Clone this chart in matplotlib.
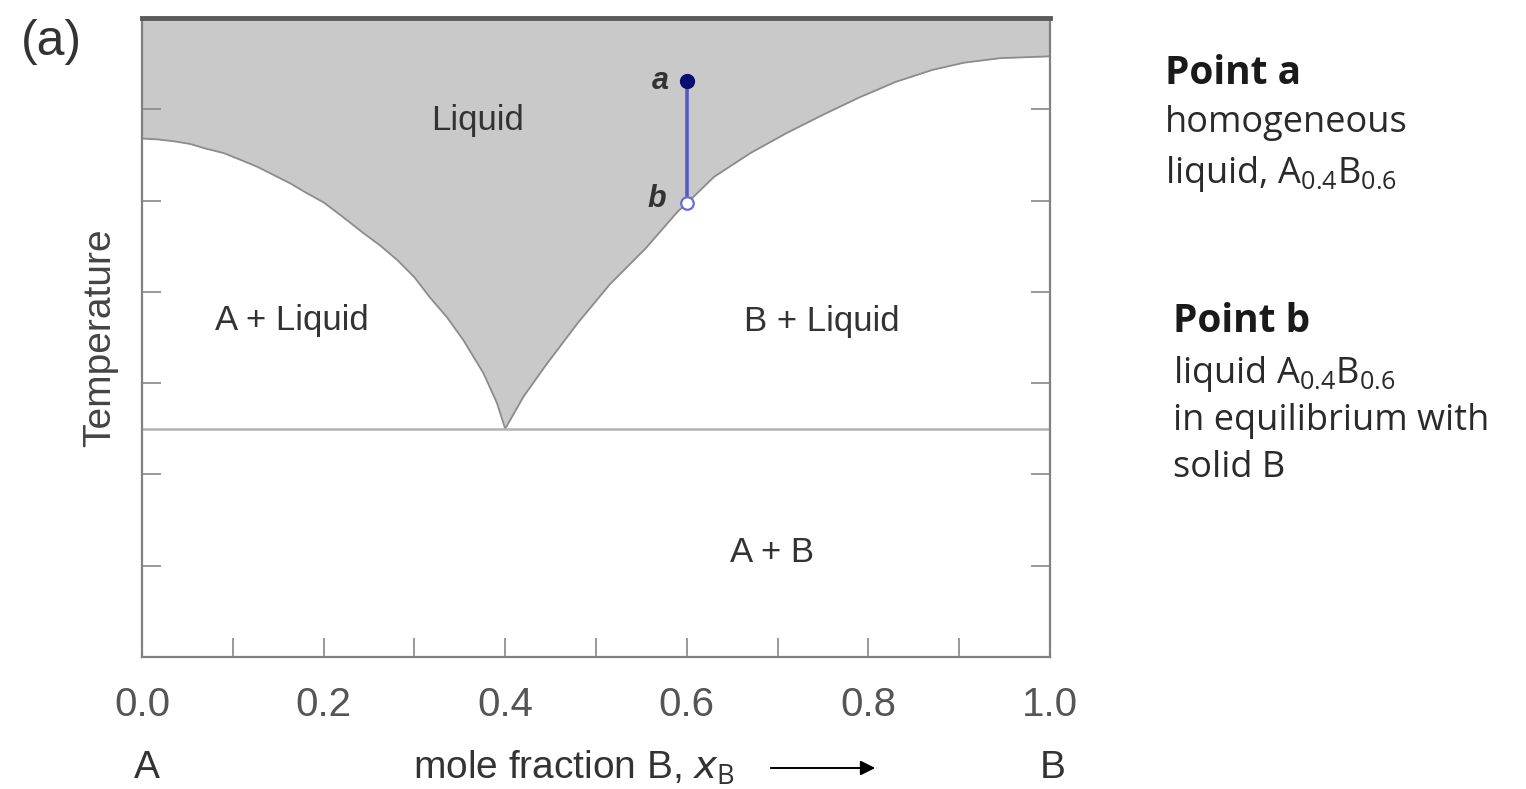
import numpy as np
import matplotlib
matplotlib.use("Agg")
import matplotlib.pyplot as plt
from matplotlib.ticker import MultipleLocator, NullFormatter

plt.rcParams['font.family'] = ['Liberation Sans', 'DejaVu Sans']
plt.rcParams['mathtext.fontset'] = 'custom'
plt.rcParams['mathtext.rm'] = 'Open Sans'
plt.rcParams['mathtext.it'] = 'DejaVu Sans:italic'
plt.rcParams['mathtext.bf'] = 'Open Sans:bold'

# liquidus on the A-rich side (mole fraction B, temperature in tick units)
left_x = [0.0, 0.017, 0.035, 0.053, 0.07, 0.09, 0.11, 0.127, 0.145, 0.163, 0.18,
          0.2, 0.22, 0.243, 0.262, 0.281, 0.3, 0.317, 0.336, 0.354, 0.376, 0.391, 0.40]
left_T = [5.68, 5.67, 5.65, 5.62, 5.57, 5.52, 5.44, 5.37, 5.28, 5.19, 5.09,
          4.98, 4.83, 4.65, 4.51, 4.35, 4.16, 3.94, 3.72, 3.47, 3.11, 2.78, 2.50]
# liquidus on the B-rich side
right_x = [0.40, 0.42, 0.445, 0.48, 0.515, 0.555, 0.59, 0.60, 0.63, 0.67, 0.71,
           0.75, 0.79, 0.83, 0.87, 0.905, 0.945, 1.0]
right_T = [2.50, 2.85, 3.20, 3.66, 4.08, 4.48, 4.88, 4.97, 5.26, 5.52, 5.74,
           5.94, 6.13, 6.30, 6.43, 6.51, 6.56, 6.58]

T_eutectic = 2.5
T_top = 7.0
x_ab = 0.6
T_a = 6.31
T_b = 4.97

tick_x_major = [0.0, 0.2, 0.4, 0.6, 0.8, 1.0]
tick_x_labels = ["0.0", "0.2", "0.4", "0.6", "0.8", "1.0"]
tick_T = [1, 2, 3, 4, 5, 6]

fig = plt.figure(figsize=(15.26, 7.89), dpi=100)
ax = fig.add_axes([142/1526, 132/789, 908/1526, 639/789])

liq_x = np.array(left_x + right_x[1:])
liq_T = np.array(left_T + right_T[1:])

ax.fill_between(liq_x, liq_T, T_top, color='#c9c9c9', lw=0)
ax.plot(liq_x, liq_T, color='#8c8c8c', lw=1.3)
ax.axhline(T_eutectic, color='#b3b3b3', lw=1.8)

# a -> b cooling path
ax.plot([x_ab, x_ab], [T_a, T_b], color='#5858c4', lw=2.6, zorder=4)
ax.plot([x_ab], [T_a], 'o', color='#0b0b70', ms=10, zorder=5)
ax.plot([x_ab], [T_b], 'o', mfc='white', mec='#6b6bd6', mew=1.6, ms=9, zorder=5)
ax.annotate('a', (x_ab, T_a), xytext=(-13, 0), textcoords='offset points',
            ha='right', va='center', fontsize=22, fontweight='bold',
            fontstyle='italic', color='#333333')
ax.annotate('b', (x_ab, T_b), xytext=(-15, 3), textcoords='offset points',
            ha='right', va='center', fontsize=22, fontweight='bold',
            fontstyle='italic', color='#333333')

# region labels
region_kw = dict(ha='center', va='baseline', fontsize=25, color='#333333')
ax.text(0.37, 5.77, 'Liquid', **region_kw)
ax.text(0.165, 3.58, 'A + Liquid', **region_kw)
ax.text(0.749, 3.57, 'B + Liquid', **region_kw)
ax.text(0.694, 1.04, 'A + B', **region_kw)

ax.set_xlim(0, 1)
ax.set_ylim(0, T_top)
ax.set_xticks(tick_x_major)
ax.set_xticklabels(tick_x_labels)
ax.xaxis.set_minor_locator(MultipleLocator(0.1))
ax.set_yticks(tick_T)
ax.yaxis.set_major_formatter(NullFormatter())
ax.tick_params(axis='x', which='both', direction='in', length=14, width=1.2,
               color='#888888', labelsize=29, labelcolor='#555555', pad=21)
ax.tick_params(axis='y', which='both', direction='in', length=14, width=1.2,
               color='#888888', left=True, right=True)
for side in ['left', 'right', 'bottom']:
    ax.spines[side].set_color('#808080')
    ax.spines[side].set_linewidth(1.6)
ax.spines['top'].set_color('#5a5a5a')
ax.spines['top'].set_linewidth(3.5)

ax.set_ylabel('Temperature', fontsize=28, color='#444444', labelpad=14)

# axis captions under the plot
fig.text(147/1526, 21/789, 'A', ha='center', va='center', fontsize=28, color='#333333')
fig.text(1053/1526, 21/789, 'B', ha='center', va='center', fontsize=28, color='#333333')
fig.text(413/1526, 21/789, r'mole fraction B, $x_{\mathrm{B}}$', ha='left', va='center',
         fontsize=28, color='#333333')
ax.annotate('', xy=(878/1526, 21/789), xytext=(768/1526, 21/789),
            xycoords='figure fraction', textcoords='figure fraction',
            arrowprops=dict(arrowstyle='-|>', color='black', lw=1.4, mutation_scale=22))
fig.text(51/1526, 1 - 42/789, '(a)', ha='center', va='center', fontsize=36, color='#333333')

# notes on the right
head_kw = dict(ha='left', va='baseline', fontsize=28, fontweight='bold',
               family=['Open Sans', 'DejaVu Sans'], color='#1a1a1a')
body_kw = dict(ha='left', va='baseline', fontsize=26,
               family=['Open Sans', 'DejaVu Sans'], color='#2a2a2a')
fig.text(1165/1526, 1 - 84/789, 'Point a', **head_kw)
fig.text(1165/1526, 1 - 132/789, 'homogeneous', **body_kw)
fig.text(1165/1526, 1 - 183/789, r'liquid, A$_{0.4}$B$_{0.6}$', **body_kw)
fig.text(1173/1526, 1 - 332/789, 'Point b', **head_kw)
fig.text(1173/1526, 1 - 383/789, r'liquid A$_{0.4}$B$_{0.6}$', **body_kw)
fig.text(1173/1526, 1 - 430/789, 'in equilibrium with', **body_kw)
fig.text(1173/1526, 1 - 477/789, 'solid B', **body_kw)

fig.savefig('out.png', dpi=100)
